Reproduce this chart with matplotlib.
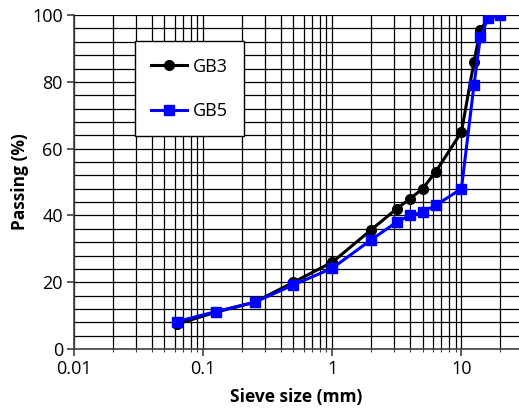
import matplotlib.pyplot as plt
from matplotlib.ticker import LogLocator, MultipleLocator, FixedFormatter, FixedLocator

plt.rcParams['font.family'] = ['Open Sans', 'DejaVu Sans']

# sieve sizes (mm)
sieve = [0.063, 0.125, 0.25, 0.5, 1, 2, 3.15, 4, 5, 6.3, 10, 12.5, 14, 16, 20]
gb3 = [7.5, 11, 14, 20, 26, 35.7, 42, 45, 48, 53, 65, 86, 95.5, 99, 100]
gb5 = [8.2, 11.2, 14, 19.2, 24.2, 32.7, 38, 40, 41, 43, 48, 79, 93.3, 99, 100]

x_ticks = [0.01, 0.1, 1, 10]
x_labels = ['0.01', '0.1', '1', '10']

fig = plt.figure(figsize=(5.19, 4.08), dpi=100)
ax = fig.add_axes([0.1426, 0.1446, 1 - 0.1426, 0.963 - 0.1446])

ax.plot(sieve, gb3, color='black', marker='o', markersize=7, linewidth=2.2, label='GB3', zorder=3)
ax.plot(sieve, gb5, color='#0000ff', marker='s', markersize=7.5, linewidth=2.2, label='GB5', zorder=4)

ax.set_xscale('log')
ax.set_xlim(0.01, 27.9)
ax.set_ylim(0, 100)

ax.xaxis.set_major_locator(FixedLocator(x_ticks))
ax.xaxis.set_major_formatter(FixedFormatter(x_labels))
ax.xaxis.set_minor_locator(LogLocator(base=10, subs=range(2, 10)))
ax.yaxis.set_major_locator(MultipleLocator(20))
ax.yaxis.set_minor_locator(MultipleLocator(4))

ax.grid(True, which='both', color='black', linewidth=0.9)
ax.set_axisbelow(True)

for s in ['top', 'right']:
    ax.spines[s].set_visible(False)
for s in ['left', 'bottom']:
    ax.spines[s].set_color('#404040')
    ax.spines[s].set_linewidth(1.2)

ax.tick_params(which='major', direction='out', length=5, width=1.2, color='#404040',
               labelsize=13, pad=3)
ax.tick_params(which='minor', direction='out', length=2, width=0.8, color='#404040')
ax.tick_params(axis='x', which='minor', labelbottom=False)
ax.tick_params(axis='y', which='minor', length=0)

ax.set_xlabel('Sieve size (mm)', fontsize=12.5, fontweight='bold', labelpad=7)
ax.set_ylabel('Passing (%)', fontsize=12.5, fontweight='bold', labelpad=2)

leg = ax.legend(loc='upper left', bbox_to_anchor=(0.137, 0.921), fontsize=13,
                handlelength=2.0, labelspacing=1.45, borderpad=0.9, handletextpad=0.3,
                fancybox=False, framealpha=1, edgecolor='black', borderaxespad=0)
leg.get_frame().set_linewidth(1.0)

fig.savefig('out.png', dpi=100)
